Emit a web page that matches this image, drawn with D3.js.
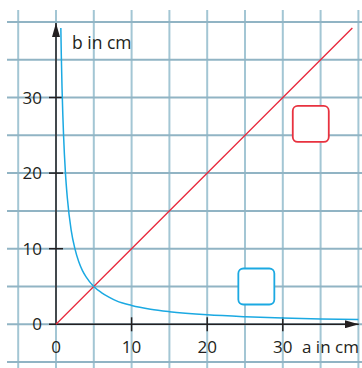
<!DOCTYPE html>
<html>
<head>
<meta charset="utf-8">
<script src="https://cdn.jsdelivr.net/npm/d3@7"></script>
<style>
  body { margin: 0; background: #fff; }
  text { font-family: "Open Sans", sans-serif; fill: #231f20; }
</style>
</head>
<body>
<div id="chart"></div>
<script>
let width = 362,
    height = 368;

// tick values
const xTicks = [10, 20, 30];
const yTicks = [10, 20, 30];
const gridSteps = [-5, 0, 5, 10, 15, 20, 25, 30, 35, 40];

// red line: b = a
const lineData = [[0, 0], [39.2, 39.2]];

// blue curve: a * b = 25
const curveData = [
  [0.64, 39.2], [0.7, 35.7], [0.8, 31.2], [0.9, 27.8], [1, 25], [1.25, 20],
  [1.5, 16.7], [2, 12.5], [2.5, 10], [3, 8.3], [3.5, 7.1], [4, 6.25],
  [5, 5], [6, 4.2], [7, 3.6], [8, 3.1], [10, 2.5], [12.5, 2], [15, 1.67],
  [20, 1.25], [25, 1], [30, 0.83], [35, 0.71], [40, 0.63]
];

// answer boxes (centre in a/b units)
const boxes = [
  { a: 33.7, b: 26.5, color: "#e8323f" },
  { a: 26.5, b: 5.0, color: "#1ba9e2" }
];

const svg = d3.select("#chart")
  .append("svg")
  .attr("width", width)
  .attr("height", height);

let x = d3.scaleLinear().domain([0, 40]).range([56, 358.4]);
let y = d3.scaleLinear().domain([0, 40]).range([324.3, 21.9]);

// grid
svg.append("g")
  .selectAll("line")
  .data(gridSteps)
  .join("line")
  .attr("x1", d => x(d)).attr("x2", d => x(d))
  .attr("y1", 10).attr("y2", height)
  .attr("stroke", "#a3c6d4")
  .attr("stroke-width", 2);

svg.append("g")
  .selectAll("line")
  .data(gridSteps)
  .join("line")
  .attr("y1", d => y(d)).attr("y2", d => y(d))
  .attr("x1", 7).attr("x2", width)
  .attr("stroke", "#91b4c4")
  .attr("stroke-width", 2);

// arrow marker
svg.append("defs").append("marker")
  .attr("id", "arrow")
  .attr("viewBox", "0 0 14 8")
  .attr("refX", 14).attr("refY", 4)
  .attr("markerWidth", 14).attr("markerHeight", 8)
  .attr("markerUnits", "userSpaceOnUse")
  .attr("orient", "auto")
  .append("path")
  .attr("d", "M0,0L14,4L0,8Z")
  .attr("fill", "#231f20");

const ink = "#231f20";

// axes
svg.append("line")
  .attr("x1", x(0) - 7).attr("x2", x(40.05))
  .attr("y1", y(0)).attr("y2", y(0))
  .attr("stroke", ink).attr("stroke-width", 1.5)
  .attr("marker-end", "url(#arrow)");

svg.append("line")
  .attr("x1", x(0)).attr("x2", x(0))
  .attr("y1", y(0)).attr("y2", y(39.85))
  .attr("stroke", ink).attr("stroke-width", 1.5)
  .attr("marker-end", "url(#arrow)");

// ticks
svg.append("g")
  .selectAll("line")
  .data(xTicks)
  .join("line")
  .attr("x1", d => x(d)).attr("x2", d => x(d))
  .attr("y1", y(0) - 7).attr("y2", y(0) + 7)
  .attr("stroke", ink).attr("stroke-width", 1.5);

svg.append("g")
  .selectAll("line")
  .data(yTicks)
  .join("line")
  .attr("y1", d => y(d)).attr("y2", d => y(d))
  .attr("x1", x(0) - 7).attr("x2", x(0) + 7)
  .attr("stroke", ink).attr("stroke-width", 1.5);

// tick labels
svg.append("g")
  .selectAll("text")
  .data([0, ...xTicks])
  .join("text")
  .attr("x", d => x(d))
  .attr("y", 353)
  .attr("text-anchor", "middle")
  .attr("font-size", 17)
  .text(d => d);

svg.append("g")
  .selectAll("text")
  .data([0, ...yTicks])
  .join("text")
  .attr("x", 42)
  .attr("y", d => y(d) + 6)
  .attr("text-anchor", "end")
  .attr("font-size", 17)
  .text(d => d);

svg.append("text")
  .attr("x", 302).attr("y", 353)
  .attr("font-size", 17)
  .text("a in cm");

svg.append("text")
  .attr("x", 72).attr("y", 49)
  .attr("font-size", 17.5)
  .text("b in cm");

// red line
svg.append("path")
  .datum(lineData)
  .attr("fill", "none")
  .attr("stroke", "#e8283c")
  .attr("stroke-width", 1.3)
  .attr("d", d3.line().x(d => x(d[0])).y(d => y(d[1])));

// blue curve
svg.append("path")
  .datum(curveData)
  .attr("fill", "none")
  .attr("stroke", "#1ba9e2")
  .attr("stroke-width", 1.5)
  .attr("d", d3.line().x(d => x(d[0])).y(d => y(d[1])).curve(d3.curveMonotoneX));

// boxes
svg.append("g")
  .selectAll("rect")
  .data(boxes)
  .join("rect")
  .attr("x", d => x(d.a) - 18)
  .attr("y", d => y(d.b) - 18)
  .attr("width", 36).attr("height", 36)
  .attr("rx", 5)
  .attr("fill", "#fff")
  .attr("stroke", d => d.color)
  .attr("stroke-width", 1.8);
</script>
</body>
</html>
